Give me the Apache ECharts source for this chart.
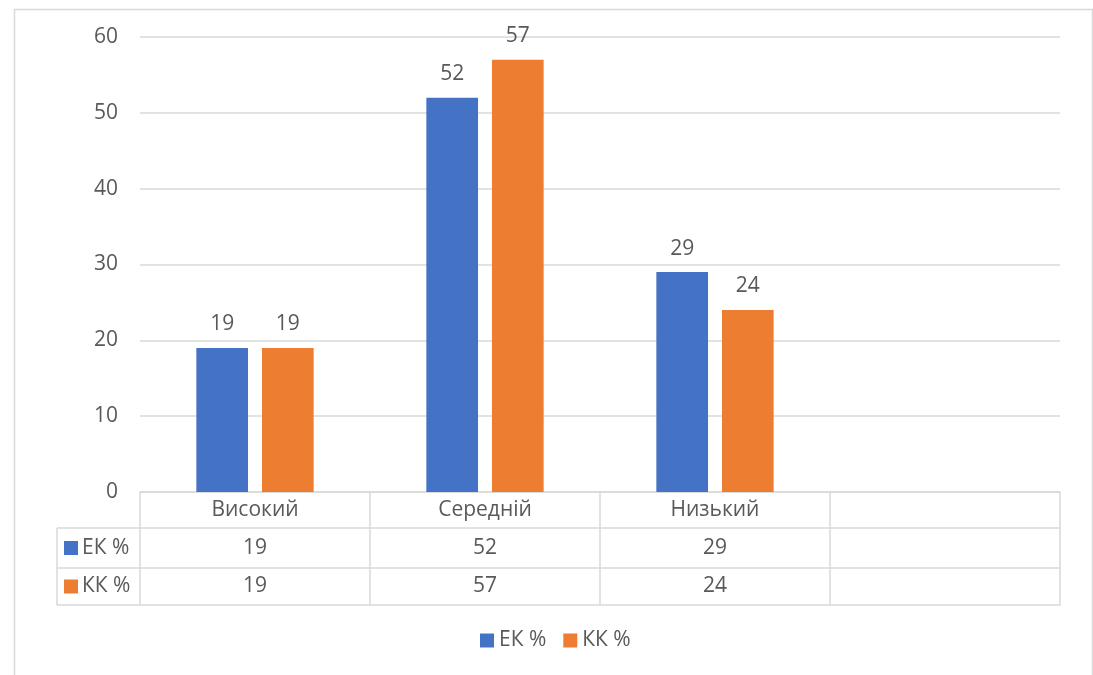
<!DOCTYPE html>
<html>
<head>
<meta charset="utf-8">
<script src="https://cdn.jsdelivr.net/npm/echarts@6/dist/echarts.min.js"></script>
<style>
  html, body { margin: 0; padding: 0; background: #fff; }
  #chart { width: 1093px; height: 675px; }
</style>
</head>
<body>
<div id="chart"></div>
<script>
// дані
const categories = ['Високий', 'Середній', 'Низький', '']
const ekValues = [19, 52, 29, null]
const kkValues = [19, 57, 24, null]
const seriesNames = ['ЕК %', 'КК %']
const colors = ['#4472C4', '#ED7D31']

const textColor = '#595959'
const lineColor = '#d9d9d9'
const font = 'Open Sans'
const fs = 21

const gridLeft = 140, gridRight = 33, gridTop = 37, gridBottom = 183
const rowH = [36, 40, 37]   // висоти рядків таблиці
const tableLeft = 57

const chart = echarts.init(document.getElementById('chart'))

const tableCell = (v) => v == null ? '' : String(v)
const axisY0 = 675 - gridBottom

const rowAxis = (data, offset, lh, showLine) => ({
  type: 'category',
  position: 'bottom',
  offset: offset,
  data: data,
  axisLine: { show: showLine, lineStyle: { color: lineColor, width: 1.5 } },
  axisTick: { show: false },
  axisLabel: {
    color: textColor, fontFamily: font, fontSize: fs,
    margin: 0, lineHeight: lh, interval: 0
  }
})

// рамка і ліва колонка таблиці
const graphics = [
  {
    type: 'rect', left: 12, top: 7,
    shape: { width: 1078, height: 700 },
    style: { fill: 'none', stroke: lineColor, lineWidth: 1.5 }, silent: true
  }
]
const y1 = axisY0 + rowH[0], y2 = y1 + rowH[1], y3 = y2 + rowH[2]
;[y1, y2, y3].forEach(y => graphics.push({
  type: 'line', shape: { x1: tableLeft, y1: y, x2: gridLeft, y2: y },
  style: { stroke: lineColor, lineWidth: 1.5 }, silent: true
}))
graphics.push({
  type: 'line', shape: { x1: tableLeft, y1: y1, x2: tableLeft, y2: y3 },
  style: { stroke: lineColor, lineWidth: 1.5 }, silent: true
})
;[[y1, y2], [y2, y3]].forEach((r, i) => {
  const cy = (r[0] + r[1]) / 2
  graphics.push({
    type: 'rect', shape: { x: 64, y: cy - 7, width: 14, height: 14 },
    style: { fill: colors[i] }, silent: true
  })
  graphics.push({
    type: 'text', x: 82, y: cy,
    style: { text: seriesNames[i], fill: textColor, font: fs + 'px "' + font + '"', verticalAlign: 'middle' },
    silent: true
  })
})

const option = {
  animation: false,
  backgroundColor: '#fff',
  color: colors,
  textStyle: { fontFamily: font },
  grid: { left: gridLeft, right: gridRight, top: gridTop, bottom: gridBottom, containLabel: false },
  legend: {
    bottom: 24,
    left: 480,
    padding: 0,
    icon: 'rect',
    itemWidth: 14,
    itemHeight: 14,
    itemGap: 17,
    textStyle: { color: textColor, fontSize: fs, fontFamily: font },
    data: seriesNames
  },
  xAxis: [
    {
      type: 'category',
      position: 'bottom',
      data: categories,
      axisLine: { show: true, lineStyle: { color: lineColor, width: 1.5 } },
      axisTick: { show: true, length: rowH[0] + rowH[1] + rowH[2], lineStyle: { color: lineColor, width: 1.5 } },
      axisLabel: { color: textColor, fontFamily: font, fontSize: fs, margin: 0, lineHeight: rowH[0], interval: 0 }
    },
    rowAxis(ekValues.map(tableCell), rowH[0], rowH[1], true),
    rowAxis(kkValues.map(tableCell), rowH[0] + rowH[1], rowH[2], true),
    rowAxis(categories.map(() => ''), rowH[0] + rowH[1] + rowH[2], 10, true)
  ],
  yAxis: {
    type: 'value',
    min: 0,
    max: 60,
    interval: 10,
    axisLine: { show: false },
    axisTick: { show: false },
    splitLine: { lineStyle: { color: lineColor, width: 1.5 } },
    axisLabel: { color: textColor, fontFamily: font, fontSize: fs, margin: 22 }
  },
  series: [
    {
      name: seriesNames[0], type: 'bar', data: ekValues,
      barGap: '27%', barCategoryGap: '49%',
      label: { show: true, position: 'top', distance: 13, color: textColor, fontSize: fs, fontFamily: font }
    },
    {
      name: seriesNames[1], type: 'bar', data: kkValues,
      barGap: '27%', barCategoryGap: '49%',
      label: { show: true, position: 'top', distance: 13, color: textColor, fontSize: fs, fontFamily: font }
    }
  ],
  graphic: graphics
}

chart.setOption(option)
</script>
</body>
</html>
